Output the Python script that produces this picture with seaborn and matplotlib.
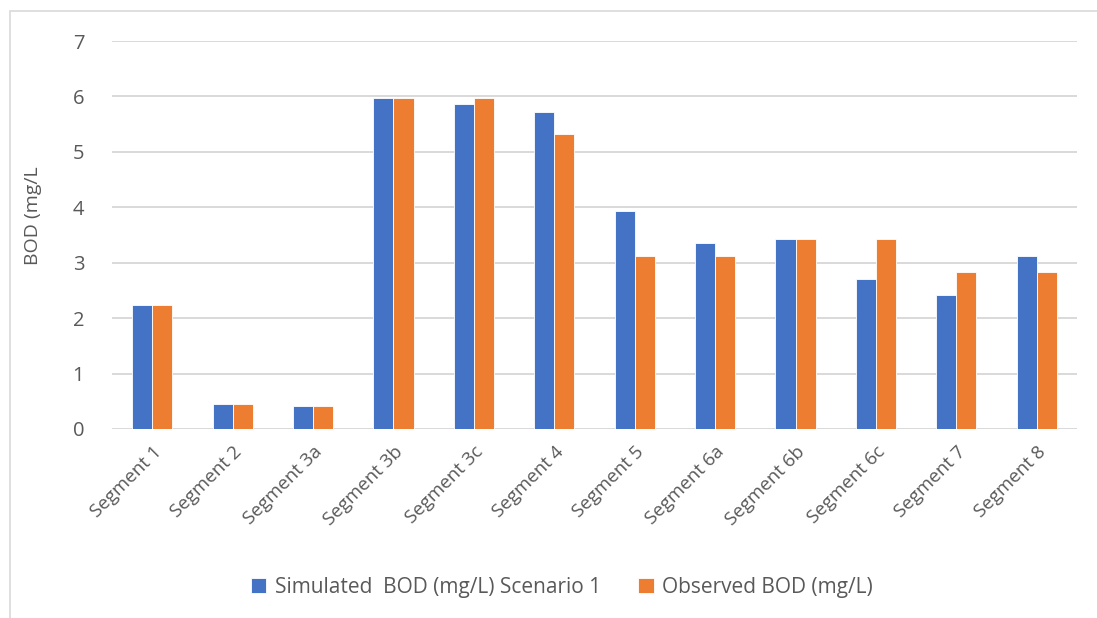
import matplotlib
matplotlib.use("Agg")
import matplotlib.pyplot as plt
from matplotlib.patches import Rectangle
import seaborn as sns
import pandas as pd

segments = ["Segment 1", "Segment 2", "Segment 3a", "Segment 3b", "Segment 3c", "Segment 4",
            "Segment 5", "Segment 6a", "Segment 6b", "Segment 6c", "Segment 7", "Segment 8"]
simulated = [2.24, 0.46, 0.42, 5.98, 5.87, 5.72, 3.93, 3.35, 3.42, 2.71, 2.41, 3.12]
observed = [2.24, 0.46, 0.42, 5.98, 5.98, 5.32, 3.13, 3.13, 3.42, 3.42, 2.83, 2.83]
series_names = ["Simulated  BOD (mg/L) Scenario 1", "Observed BOD (mg/L)"]
colors = ["#4472C4", "#ED7D31"]
y_ticks = [0, 1, 2, 3, 4, 5, 6, 7]

df = pd.DataFrame({
    "segment": segments * 2,
    "value": simulated + observed,
    "series": [series_names[0]] * len(segments) + [series_names[1]] * len(segments),
})

sns.set_theme(style="white")
plt.rcParams["font.family"] = ["Open Sans", "DejaVu Sans"]
text_color = "#595959"
grid_color = "#d9d9d9"

fig = plt.figure(figsize=(10.97, 6.18), dpi=100)
ax = fig.add_axes([112 / 1097, 1 - 429 / 618, (1077 - 112) / 1097, (429 - 41) / 618])

sns.barplot(data=df, x="segment", y="value", hue="series", order=segments,
            hue_order=series_names, palette=colors, width=0.5, gap=0,
            edgecolor="white", linewidth=0.6, saturation=1, ax=ax)

ax.set_ylim(0, 7)
ax.set_yticks(y_ticks)
ax.yaxis.grid(True, color=grid_color, linewidth=1.4)
ax.set_axisbelow(True)
for s in ax.spines.values():
    s.set_visible(False)
ax.tick_params(axis="both", length=0, colors=text_color)
ax.tick_params(axis="y", pad=20, labelsize=14.5)
ax.tick_params(axis="x", pad=10, labelsize=13.5)
ax.set_xlabel("")
ax.set_ylabel("")
plt.setp(ax.get_xticklabels(), rotation=45, ha="right", rotation_mode="anchor")

fig.text(33 / 1097, 1 - 216 / 618, "BOD (mg/L", rotation=90, ha="center", va="center",
         fontsize=14, color=text_color)

leg = ax.legend(loc="center", bbox_to_anchor=(562 / 1097, 1 - 587 / 618),
                bbox_transform=fig.transFigure, ncol=2, frameon=False, fontsize=15,
                handlelength=0.75, handleheight=0.75, handletextpad=0.4, columnspacing=1.8)
for t in leg.get_texts():
    t.set_color(text_color)

fig.patches.append(Rectangle((10 / 1097, -0.05), 1.2, 1 - 11 / 618 + 0.05,
                             transform=fig.transFigure, fill=False,
                             edgecolor=grid_color, linewidth=1.2, zorder=0))

fig.savefig("out.png", dpi=100)
